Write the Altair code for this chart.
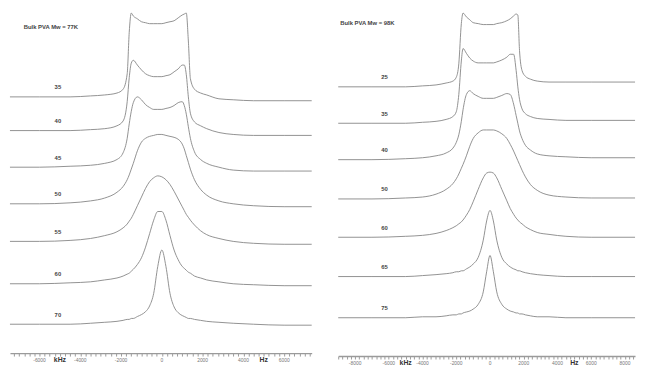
import altair as alt
import pandas as pd

left_title = "Bulk PVA   Mw = 77K"
right_title = "Bulk PVA   Mw = 98K"
left_temps = ["35", "40", "45", "50", "55", "60", "70"]
right_temps = ["25", "35", "40", "50", "60", "65", "75"]

# frequency grids (Hz)
left_freq = [-7450, -6000, -4500, -3500, -2800, -2200, -1900, -1700, -1600, -1500, -1400,
             -1200, -1000, -800, -600, -400, -200, 0, 200, 400, 600, 800, 1000, 1100, 1200,
             1300, 1400, 1600, 1900, 2200, 2800, 3500, 4500, 6000, 7350]
right_freq = [-9000, -7000, -5000, -4000, -3200, -2600, -2200, -2000, -1850, -1700, -1600,
              -1400, -1200, -1000, -700, -400, -200, 0, 200, 400, 700, 1000, 1200, 1400,
              1550, 1650, 1750, 1900, 2100, 2400, 2800, 3500, 4500, 6000, 8600]

# vertical offsets of each trace (stack position)
left_offsets = [266, 231, 193, 155, 116, 72, 30]
right_offsets = [281, 243, 205, 164, 124, 83, 40]

# intensities (relative to each trace's baseline)
left_traces = [
    [0, 0, 0, 1, 2, 4, 8, 24, 67, 87, 84, 81, 78, 77, 76, 76, 76, 76, 77, 78, 79, 82, 85, 86, 87, 58, 19, 8, 4, 2, -2, -3, -4, -4, -4],
    [0, 0, 0, 1, 2, 5, 10, 30, 55, 70, 73, 68, 63, 59, 57, 56, 56, 56, 57, 58, 61, 64, 68, 68, 58, 35, 18, 9, 5, 2, -2, -4, -5, -5, -5],
    [0, 0, 1, 2, 4, 8, 15, 30, 45, 58, 67, 73, 70, 65, 62, 60, 60, 60, 61, 62, 64, 67, 68, 64, 55, 42, 30, 16, 8, 4, 0, -3, -4, -4, -4],
    [0, 0, 1, 3, 6, 12, 18, 25, 30, 36, 42, 55, 64, 68, 70, 71, 72, 72, 71, 70, 69, 67, 62, 57, 50, 43, 36, 25, 15, 9, 3, 0, -2, -3, -3],
    [0, 0, 1, 3, 6, 10, 14, 18, 21, 24, 28, 37, 46, 55, 62, 66, 68, 67, 64, 59, 52, 44, 36, 32, 28, 25, 22, 17, 11, 7, 3, 0, -2, -3, -3],
    [0, 0, 1, 2, 4, 6, 8, 10, 11, 13, 15, 20, 27, 38, 52, 66, 75, 75, 66, 50, 35, 25, 18, 16, 14, 12, 11, 8, 6, 4, 2, 0, -1, -2, -2],
    [0, 0, 0, 1, 2, 3, 4, 5, 5, 6, 6, 8, 10, 13, 19, 32, 60, 77, 60, 32, 18, 12, 9, 8, 7, 6, 6, 5, 4, 3, 2, 1, 0, -1, -1],
]
right_traces = [
    [0, 0, 0, 1, 2, 4, 6, 10, 24, 66, 77, 73, 70, 67, 66, 65, 65, 65, 65, 66, 67, 69, 71, 74, 76, 75, 38, 17, 11, 8, 6, 5, 5, 5, 5],
    [0, 0, 0, 1, 2, 4, 7, 12, 30, 65, 78, 73, 68, 65, 63, 63, 63, 63, 63, 64, 66, 69, 72, 72, 55, 38, 25, 15, 10, 7, 5, 4, 3, 3, 3],
    [0, 0, 1, 2, 4, 7, 12, 18, 26, 40, 52, 68, 72, 69, 66, 64, 64, 64, 64, 65, 67, 69, 68, 58, 46, 38, 30, 22, 15, 10, 6, 4, 3, 2, 2],
    [0, 0, 1, 2, 5, 10, 16, 21, 26, 32, 36, 45, 55, 63, 69, 72, 72, 72, 72, 71, 68, 63, 57, 50, 44, 40, 36, 30, 23, 15, 9, 4, 2, 1, 1],
    [0, 0, 1, 2, 4, 7, 10, 12, 14, 16, 18, 23, 29, 37, 50, 62, 67, 68, 67, 62, 50, 38, 30, 24, 20, 18, 16, 14, 11, 8, 5, 3, 1, 0, 0],
    [0, 0, 0, 1, 2, 3, 4, 5, 5, 6, 6, 8, 10, 13, 20, 38, 58, 69, 58, 38, 20, 13, 10, 8, 7, 6, 6, 5, 4, 3, 2, 1, 0, 0, 0],
    [0, 0, 0, 1, 1, 2, 3, 3, 4, 4, 5, 6, 7, 9, 14, 27, 48, 65, 48, 27, 14, 9, 7, 6, 5, 5, 4, 4, 3, 2, 1, 1, 0, 0, 0],
]

# axis ticks (minor) and tick labels
left_ticks = list(range(-7250, 7251, 250))
right_ticks = list(range(-9000, 8501, 250))
left_tick_labels = [-6000, -4000, -2000, 0, 2000, 4000, 6000]
right_tick_labels = [-8000, -6000, -4000, -2000, 0, 2000, 4000, 6000, 8000]
unit_labels = ["kHz", "Hz"]
unit_pos = [-5000, 5000]


def build_panel(freq, traces, offsets, temps, title, domain, ydom, width, height,
                title_pos, label_x, ticks, tick_labels):
    rows = []
    for temp, off, tr in zip(temps, offsets, traces):
        for f, v in zip(freq, tr):
            rows.append({"f": f, "v": off + v, "temp": temp})
    df = pd.DataFrame(rows)

    xs = alt.Scale(domain=domain, nice=False, zero=False)
    ys = alt.Scale(domain=ydom, nice=False, zero=False)
    xaxis = alt.Axis(values=ticks, title=None, grid=False, labels=False,
                     tickSize=3, tickColor="#9a9a9a", domainColor="#9a9a9a",
                     domainWidth=1.5)

    def X():
        return alt.X("f:Q", scale=xs, axis=xaxis)

    def Y():
        return alt.Y("v:Q", scale=ys, axis=None)

    lines = alt.Chart(df).mark_line(color="#858585", strokeWidth=0.9, interpolate="monotone").encode(
        x=X(), y=Y(), detail="temp:N")

    lab_df = pd.DataFrame({"f": [label_x] * len(temps),
                           "v": [o + 10 for o in offsets], "t": temps})
    labels = alt.Chart(lab_df).mark_text(fontSize=6, fontWeight="bold", color="#444444",
                                         font="Liberation Sans").encode(x=X(), y=Y(), text="t:N")

    title_df = pd.DataFrame({"f": [title_pos[0]], "v": [title_pos[1]], "t": [title]})
    ttl = alt.Chart(title_df).mark_text(align="left", fontSize=6, fontWeight="bold",
                                        color="#444444", font="Liberation Sans").encode(
        x=X(), y=Y(), text="t:N")

    unit_df = pd.DataFrame({"f": unit_pos, "v": [-7, -7], "t": unit_labels})
    units = alt.Chart(unit_df).mark_text(fontSize=7, fontWeight="bold", color="#333333",
                                         font="Liberation Sans").encode(x=X(), y=Y(), text="t:N")

    tl_df = pd.DataFrame({"f": tick_labels, "v": [-7] * len(tick_labels),
                          "t": [str(t) for t in tick_labels]})
    tls = alt.Chart(tl_df).mark_text(fontSize=5, color="#777777",
                                     font="Liberation Sans").encode(x=X(), y=Y(), text="t:N")

    return alt.layer(lines, labels, ttl, units, tls).properties(width=width, height=height)


left = build_panel(left_freq, left_traces, left_offsets, left_temps, left_title,
                   [-7450, 7350], [0, 353], 307, 346, (-6775, 338), -5100, left_ticks,
                   left_tick_labels)
right = build_panel(right_freq, right_traces, right_offsets, right_temps, right_title,
                    [-9000, 8600], [0, 358], 302, 349, (-8883, 348), -6250, right_ticks,
                    right_tick_labels)

chart = alt.hconcat(left, right, spacing=23).properties(
    padding={"left": 0, "top": 0, "right": 0, "bottom": 0}
).configure_view(stroke=None).configure_axis(grid=False)

chart.save("out.html", embed_options={"renderer": "svg", "actions": False})
